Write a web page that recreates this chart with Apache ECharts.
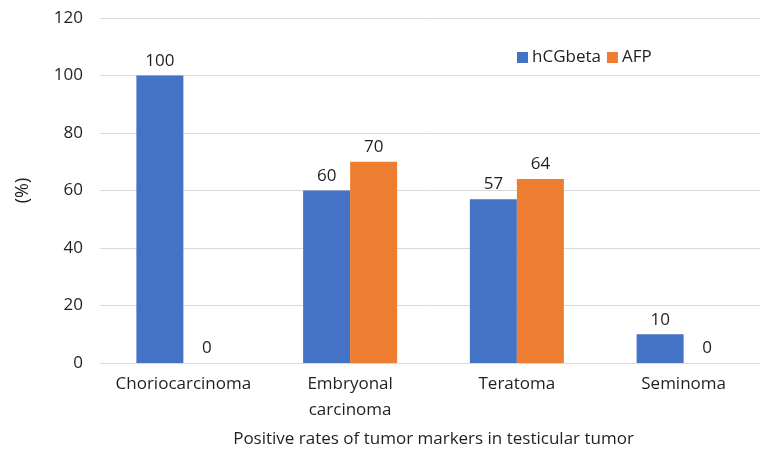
<!DOCTYPE html>
<html>
<head>
<meta charset="utf-8">
<script src="https://cdn.jsdelivr.net/npm/echarts@6/dist/echarts.min.js"></script>
<style>
  html, body { margin: 0; padding: 0; background: #fff; }
  #chart { width: 760px; height: 449px; }
</style>
</head>
<body>
<div id="chart"></div>
<script>
const categories = ['Choriocarcinoma', 'Embryonal\ncarcinoma', 'Teratoma', 'Seminoma']
const hcgValues = [100, 60, 57, 10]
const afpValues = [0, 70, 64, 0]
const yTicks = { min: 0, max: 120, interval: 20 }

const font = '"Open Sans", "Noto Sans", sans-serif'
const textColor = '#1f1f1f'

const chart = echarts.init(document.getElementById('chart'))

const labelStyle = {
  show: true,
  position: 'top',
  distance: 6,
  fontSize: 17,
  fontFamily: font,
  color: textColor
}

chart.setOption({
  animation: false,
  textStyle: { fontFamily: font },
  legend: {
    top: 44,
    left: 512,
    itemWidth: 11,
    itemHeight: 11,
    itemGap: 6,
    icon: 'rect',
    textStyle: { fontSize: 17, color: textColor, fontFamily: font, padding: [0, 0, 0, -1] }
  },
  grid: {
    left: 100,
    top: 18,
    width: 667,
    bottom: 86,
    containLabel: false,
    outerBoundsMode: 'none'
  },
  xAxis: {
    type: 'category',
    data: categories,
    name: 'Positive rates of tumor markers in testicular tumor',
    nameLocation: 'middle',
    nameGap: 68,
    nameTextStyle: { fontSize: 17, color: textColor, fontFamily: font },
    axisLine: { lineStyle: { color: '#d9d9d9' } },
    axisTick: { show: false },
    axisLabel: { fontSize: 17, color: textColor, fontFamily: font, margin: 8, lineHeight: 26, interval: 0 }
  },
  yAxis: {
    type: 'value',
    min: yTicks.min,
    max: yTicks.max,
    interval: yTicks.interval,
    name: '(%)',
    nameLocation: 'middle',
    nameGap: 68,
    nameRotate: 90,
    nameTextStyle: { fontSize: 18, color: textColor, fontFamily: font },
    axisLine: { show: false },
    axisTick: { show: false },
    axisLabel: { fontSize: 17, color: textColor, fontFamily: font, margin: 17 },
    splitLine: { lineStyle: { color: '#d9d9d9' } }
  },
  series: [
    {
      name: 'hCGbeta',
      type: 'bar',
      data: hcgValues,
      barWidth: 47,
      barGap: '0%',
      itemStyle: { color: '#4472C4' },
      label: labelStyle
    },
    {
      name: 'AFP',
      type: 'bar',
      data: afpValues,
      barWidth: 47,
      itemStyle: { color: '#ED7D31' },
      label: labelStyle
    }
  ]
})
</script>
</body>
</html>
